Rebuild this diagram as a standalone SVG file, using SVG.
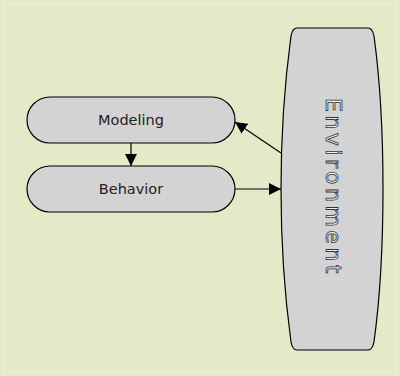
<svg xmlns="http://www.w3.org/2000/svg" width="400" height="376" viewBox="0 0 400 376">
  <style>
    .node { fill: #d3d3d3; stroke: #000; stroke-width: 1.2; }
    .label { font-family: "DejaVu Sans", sans-serif; font-size: 14.5px; fill: #222; text-anchor: middle; dominant-baseline: central; }
    .env-label { font-family: "DejaVu Sans", sans-serif; font-size: 22px; fill: #eeeeee; stroke: #333; stroke-width: 0.8; letter-spacing: 3.5px; }
    .edge { stroke: #000; stroke-width: 1.2; fill: none; }
  </style>
  <defs>
    <marker id="arrow" viewBox="0 0 10 10" refX="10" refY="5" markerWidth="12" markerHeight="12" markerUnits="userSpaceOnUse" orient="auto">
      <path d="M0,0 L10,5 L0,10 Z" fill="#000"/>
    </marker>
  </defs>

  <rect x="0" y="0" width="400" height="376" fill="#e6e9c7"/>
  <rect x="3.5" y="3.5" width="393" height="369" fill="none" stroke="#eef0dc" stroke-width="1"/>

  <g id="modeling">
    <rect class="node" x="27" y="97" width="208" height="46" rx="23" ry="23"/>
    <text class="label" x="131" y="120">Modeling</text>
  </g>

  <g id="behavior">
    <rect class="node" x="27" y="166" width="208" height="46" rx="23" ry="23"/>
    <text class="label" x="131" y="189">Behavior</text>
  </g>

  <g id="environment">
    <path class="node" d="M297,28 H368 C371,28 373,31 374,36 C380,80 383,140 383,189 C383,240 380,298 374,342 C373,347 371,350 368,350 H297 C294,350 292,347 291,342 C285,298 281,240 281,189 C281,140 285,80 291,36 C292,31 294,28 297,28 Z"/>
    <text class="env-label" x="0" y="0" transform="translate(326,98) rotate(90)">Environment</text>
  </g>

  <g id="connectors">
    <line class="edge" x1="131" y1="143" x2="131" y2="166" marker-end="url(#arrow)"/>
    <line class="edge" x1="235" y1="189" x2="281" y2="189" marker-end="url(#arrow)"/>
    <line class="edge" x1="281" y1="153" x2="235" y2="122" marker-end="url(#arrow)"/>
  </g>
</svg>
